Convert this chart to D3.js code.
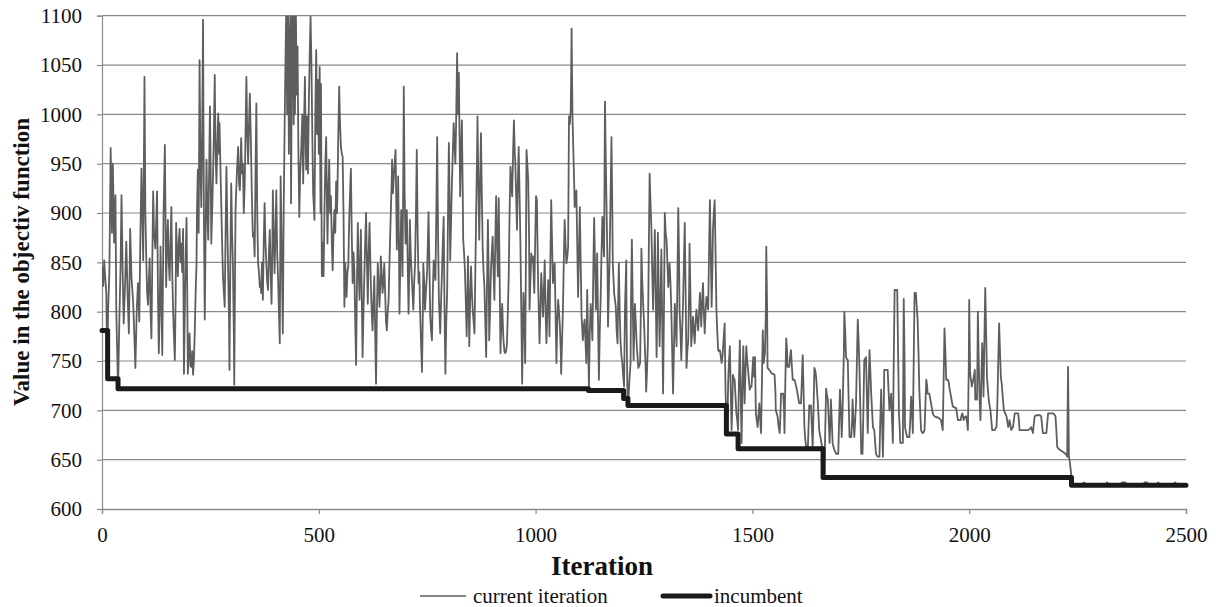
<!DOCTYPE html>
<html><head><meta charset="utf-8">
<script src="https://cdn.jsdelivr.net/npm/d3@7"></script>
<style>html,body{margin:0;padding:0;background:#fff}svg{display:block}</style>
</head><body><svg id="c" width="1216" height="607"></svg>
<script>
const xTicks = [0, 500, 1000, 1500, 2000, 2500];
const yTicks = [600, 650, 700, 750, 800, 850, 900, 950, 1000, 1050, 1100];
const seriesNames = ["current iteration", "incumbent"];
const xTitle = "Iteration";
const yTitle = "Value in the objectiv function";

// incumbent: iteration where a new value starts, and that value
const incumbentIter  = [0, 13, 37, 1122, 1203, 1213, 1440, 1467, 1663, 2236, 2500];
const incumbentValue = [781, 732, 722, 720, 712, 705, 676, 661, 632, 624, 624];

// current iteration value, [iteration, value]
const currentA = [[0,845],[3,826],[5,852],[7,838],[10,818],[12,732],[14,800],[17,840],[20,966],[23,880],[25,950],[28,870],[31,918],[33,800],[35,760],[37,722],[40,790],[43,850],[45,918],[48,830],[50,788],[53,825],[56,871],[59,818],[62,778],[65,884],[68,835],[72,808],[75,770],[77,743],[80,800],[83,829],[86,790],[88,860],[91,945],[93,900],[95,852],[98,1038],[100,900],[102,856],[104,820],[106,807],[108,830],[110,854],[112,800],[114,773],[116,850],[118,922],[120,880],[123,864],[125,890],[127,922],[129,820],[131,758],[133,800],[135,866],[137,810],[139,756],[142,900],[145,969],[147,870],[148,825],[150,870],[152,893],[154,850],[156,832],[158,870],[160,906],[162,840],[164,800],[166,775],[168,751],[170,820],[171,890],[173,860],[175,836],[177,870],[179,884],[181,850],[183,869],[185,840],[187,884],[189,737],[191,800],[193,860],[195,895],[197,800],[198,737],[200,760],[202,778],[204,745],[206,744],[208,760],[210,736],[212,751],[214,780],[216,820],[218,849],[219,900],[221,944],[223,880],[225,1055],[227,950],[229,906],[231,980],[233,1096],[235,900],[237,792],[239,880],[241,954],[243,900],[245,873],[247,940],[249,1008],[251,930],[252,869],[254,900],[256,937],[258,980],[260,1040],[262,960],[264,930],[266,970],[268,1001],[270,960],[271,991],[273,950],[275,910],[277,870],[279,836],[281,820],[283,805],[285,880],[287,947],[289,890],[291,839],[293,790],[294,741],[296,850],[298,930],[300,880],[302,846],[304,780],[305,726],[307,850],[308,903],[311,940],[314,967],[316,930],[318,923],[320,960],[321,976],[323,940],[325,950],[327,900],[329,927],[331,980],[333,1038],[335,980],[337,950],[339,990],[341,1021],[343,980],[344,957],[346,910],[348,876],[350,880],[352,856],[354,940],[356,1011],[358,900],[360,849],[362,840],[364,825],[366,830],[367,819],[369,850],[371,812],[373,870],[375,910],[377,870],[379,849],[381,830],[383,822],[385,860],[387,883],[389,840],[391,808],[393,870],[394,923],[396,880],[398,839],[400,880],[402,923],[404,860],[406,836],[408,800],[410,768],[411,850],[412,937],[414,880],[417,778],[419,900],[421,981],[423,1050],[425,1110],[427,1000],[429,1110],[431,960],[433,1080],[435,1110],[436,910],[438,1072],[440,1110],[442,990],[444,1110],[445,1000],[447,1110],[449,1020],[451,1069],[453,960],[455,896],[457,940],[460,971],[462,1000],[464,930],[466,990],[468,1038],[470,960],[471,944],[473,998],[475,940],[477,1010],[479,1060],[481,1099],[483,1052],[485,980],[487,920],[490,893],[492,1000],[494,1065],[496,980],[498,1035],[500,960]];
const currentB = [[502,1048],[504,900],[505,1031],[507,836],[509,870],[511,836],[513,900],[515,950],[517,977],[519,900],[520,869],[522,920],[524,954],[526,900],[528,917],[530,870],[532,842],[534,880],[536,903],[538,880],[540,932],[542,900],[543,920],[545,980],[547,1028],[549,990],[551,967],[553,960],[555,957],[557,900],[559,805],[561,849],[563,830],[564,815],[566,840],[568,846],[570,890],[572,920],[574,945],[576,880],[578,829],[580,860],[582,842],[584,790],[586,746],[588,830],[590,890],[592,840],[594,812],[596,860],[597,883],[599,820],[601,754],[603,800],[605,836],[607,870],[609,900],[611,850],[613,808],[615,860],[617,890],[619,850],[620,829],[622,800],[624,781],[626,810],[628,836],[630,780],[632,727],[634,800],[636,849],[638,830],[640,805],[642,830],[643,856],[645,840],[647,819],[649,830],[651,849],[653,820],[655,790],[657,781],[659,800],[661,812],[663,850],[666,900],[668,930],[669,954],[671,920],[673,937],[675,950],[677,964],[679,900],[680,863],[682,900],[683,937],[685,860],[686,798],[688,850],[690,903],[692,870],[693,836],[695,950],[696,1028],[698,920],[700,869],[702,890],[703,903],[705,850],[707,798],[709,850],[710,893],[712,860],[714,839],[716,820],[718,802],[720,830],[722,849],[724,900],[726,964],[728,880],[730,829],[732,840],[733,812],[735,780],[738,739],[740,800],[741,849],[743,830],[745,802],[747,820],[750,842],[752,880],[753,901],[755,850],[757,795],[759,780],[761,771],[763,820],[765,852],[767,840],[769,832],[771,900],[773,977],[775,880],[777,812],[779,790],[780,778],[782,810],[784,839],[786,870],[788,896],[790,800],[792,737],[794,790],[796,819],[798,900],[800,971],[802,900],[803,852],[805,890],[807,930],[809,960],[811,991],[813,970],[815,950],[817,1000],[819,1062],[821,1000],[823,1042],[825,960],[826,917],[828,960],[830,994],[832,920],[833,873],[835,860],[837,842],[839,810],[841,775],[843,820],[844,856],[846,800],[847,765],[849,810],[851,846],[853,820],[855,802],[857,790],[859,778],[861,840],[863,903],[865,960],[866,998],[868,930],[870,873],[872,930],[874,981],[876,920],[878,863],[880,840],[882,825],[884,790],[886,754],[888,830],[890,893],[892,830],[893,771],[895,800],[897,842],[899,860],[901,876],[903,840],[905,812],[907,870],[909,917],[911,870],[913,836],[915,915],[917,840],[919,758],[921,790],[923,808],[925,780],[926,771],[928,760],[930,758],[932,760],[934,768],[936,800],[938,836],[940,900],[942,947],[944,930],[946,917],[948,960],[950,994],[952,960],[953,954],[955,920],[957,883],[959,930],[961,967],[963,920],[965,869],[967,800],[969,727],[971,790],[972,819],[974,790],[976,748],[978,880],[979,964],[981,950],[983,933],[985,870],[986,802],[988,830],[990,859],[992,850],[994,856],[996,830],[997,819],[999,870],[1001,917]];
const currentC = [[1003,913],[1005,850],[1006,825],[1008,790],[1009,768],[1011,800],[1013,839],[1015,820],[1017,795],[1019,820],[1021,852],[1023,800],[1025,768],[1027,800],[1029,832],[1031,800],[1032,775],[1034,850],[1036,913],[1038,870],[1040,829],[1042,840],[1044,849],[1046,800],[1048,748],[1050,790],[1052,812],[1054,800],[1056,785],[1058,760],[1059,737],[1061,770],[1063,802],[1065,850],[1067,893],[1069,870],[1071,849],[1073,855],[1075,866],[1076,930],[1077,998],[1079,990],[1081,1004],[1082,1040],[1083,1087],[1085,1000],[1087,964],[1089,930],[1090,906],[1092,915],[1094,923],[1096,870],[1098,815],[1100,860],[1102,906],[1104,850],[1106,795],[1108,780],[1109,771],[1111,785],[1113,792],[1115,770],[1117,748],[1118,790],[1119,822],[1121,770],[1123,724],[1125,780],[1127,808],[1129,790],[1131,771],[1133,840],[1135,895],[1137,850],[1139,802],[1141,830],[1142,859],[1144,790],[1146,731],[1148,780],[1150,812],[1152,860],[1154,896],[1156,870],[1158,856],[1159,940],[1160,1013],[1162,950],[1164,896],[1166,840],[1167,785],[1169,820],[1171,863],[1173,920],[1175,977],[1177,900],[1178,849],[1180,830],[1181,819],[1183,812],[1185,805],[1187,780],[1189,768],[1190,800],[1192,849],[1194,800],[1196,768],[1198,755],[1200,748],[1202,735],[1204,724],[1206,800],[1209,852],[1210,780],[1212,711],[1214,707],[1215,720],[1217,735],[1219,748],[1220,810],[1222,873],[1224,810],[1226,751],[1228,790],[1229,808],[1231,790],[1233,768],[1235,755],[1237,743],[1239,745],[1241,748],[1243,810],[1244,864],[1246,830],[1248,808],[1250,790],[1252,765],[1254,740],[1255,719],[1257,740],[1259,768],[1261,860],[1263,940],[1265,910],[1267,886],[1269,840],[1271,802],[1273,840],[1275,883],[1277,820],[1279,754],[1281,810],[1282,880],[1284,820],[1286,765],[1288,810],[1290,863],[1292,790],[1294,717],[1296,800],[1298,900],[1300,880],[1302,873],[1304,850],[1306,825],[1308,840],[1309,849],[1311,830],[1313,802],[1315,760],[1317,717],[1319,760],[1321,808],[1323,790],[1325,765],[1327,830],[1329,905],[1331,850],[1332,802],[1334,780],[1336,751],[1338,780],[1340,808],[1342,850],[1344,890],[1346,820],[1348,743],[1350,760],[1352,771],[1354,820],[1355,869],[1357,820],[1359,765],[1361,780],[1363,795],[1365,780],[1367,768],[1369,790],[1371,802],[1373,790],[1375,781],[1377,800],[1379,819],[1381,800],[1382,785],[1384,810],[1386,829],[1388,800],[1390,778],[1392,800],[1394,815],[1396,810],[1398,802],[1400,860],[1402,913],[1404,860],[1406,805],[1408,850],[1409,883],[1411,900],[1413,913],[1415,860],[1417,802],[1419,780],[1421,761],[1423,760],[1425,761],[1427,755],[1429,748],[1431,755],[1432,761],[1434,775],[1436,788],[1438,720],[1440,690],[1441,676],[1443,700],[1444,727],[1446,750],[1448,765],[1450,720],[1452,680],[1454,710],[1455,736],[1457,733],[1459,731],[1461,715],[1463,697],[1465,690],[1467,680],[1469,730],[1471,771],[1473,720],[1475,667],[1477,720],[1479,765],[1481,730],[1482,707],[1484,740],[1486,765],[1488,750],[1490,741],[1492,730],[1494,721],[1496,724],[1498,724],[1500,740]];
const currentD = [[1502,754],[1504,734],[1506,754],[1508,697],[1510,690],[1512,683],[1514,695],[1516,707],[1518,690],[1520,677],[1522,730],[1524,781],[1526,748],[1528,755],[1529,758],[1531,800],[1532,866],[1534,800],[1535,743],[1537,742],[1539,741],[1542,739],[1545,737],[1548,737],[1551,736],[1553,720],[1554,700],[1556,697],[1558,694],[1560,685],[1563,677],[1565,700],[1566,717],[1569,717],[1571,717],[1573,700],[1574,677],[1576,730],[1578,773],[1580,760],[1581,744],[1583,744],[1585,744],[1587,755],[1589,761],[1591,745],[1593,731],[1595,731],[1597,731],[1599,728],[1601,724],[1603,720],[1604,717],[1606,712],[1608,707],[1610,707],[1612,707],[1614,730],[1616,756],[1618,720],[1620,683],[1622,670],[1624,663],[1626,663],[1628,663],[1630,690],[1631,705],[1633,705],[1635,705],[1637,685],[1639,663],[1641,700],[1643,743],[1645,740],[1647,734],[1649,720],[1651,707],[1653,690],[1654,680],[1656,675],[1658,670],[1660,665],[1662,660],[1664,645],[1666,636],[1668,680],[1670,722],[1672,715],[1674,711],[1676,690],[1678,667],[1680,690],[1681,711],[1683,690],[1685,667],[1687,663],[1689,660],[1691,658],[1693,656],[1696,656],[1698,656],[1700,690],[1702,721],[1704,700],[1706,673],[1708,700],[1709,721],[1711,760],[1712,800],[1714,780],[1716,754],[1718,752],[1720,751],[1722,710],[1724,673],[1726,673],[1728,673],[1730,690],[1731,711],[1733,690],[1735,673],[1737,690],[1739,707],[1741,750],[1743,792],[1745,770],[1747,741],[1749,700],[1751,656],[1753,656],[1754,656],[1756,700],[1758,751],[1760,752],[1762,754],[1764,715],[1766,677],[1768,720],[1770,761],[1772,740],[1774,717],[1776,700],[1778,683],[1780,681],[1781,680],[1783,668],[1785,656],[1787,654],[1789,653],[1791,653],[1793,653],[1795,690],[1797,721],[1799,690],[1801,653],[1803,700],[1804,741],[1806,741],[1808,741],[1810,741],[1812,741],[1814,720],[1816,700],[1818,709],[1820,717],[1822,690],[1824,667],[1826,750],[1828,822],[1830,822],[1832,822],[1834,822],[1836,760],[1838,697],[1840,680],[1841,667],[1843,667],[1845,667],[1847,667],[1848,740],[1849,813],[1851,750],[1852,683],[1854,678],[1857,673],[1860,673],[1862,673],[1864,690],[1866,714],[1868,700],[1870,677],[1872,750],[1874,819],[1876,819],[1877,819],[1879,805],[1881,792],[1883,760],[1885,721],[1887,700],[1889,680],[1891,678],[1893,677],[1895,678],[1897,680],[1899,705],[1901,731],[1903,725],[1904,717],[1906,717],[1908,717],[1910,712],[1912,707],[1914,702],[1916,697],[1918,695],[1920,694],[1924,693],[1927,693],[1931,692],[1935,690],[1937,685],[1939,680],[1941,730],[1943,783],[1945,760],[1947,731],[1949,731],[1951,731],[1953,728],[1954,724],[1956,719],[1958,714],[1960,709],[1962,704],[1966,703],[1970,702],[1972,696],[1974,690],[1977,690],[1980,690],[1982,694],[1984,697],[1986,694],[1987,690],[1990,693],[1993,694],[1995,688],[1997,680],[1999,745],[2000,812]];
const currentE = [[2002,740],[2003,734],[2005,729],[2006,724],[2009,730],[2011,735],[2013,741],[2014,711],[2016,711],[2018,711],[2019,750],[2020,800],[2022,750],[2024,711],[2026,690],[2028,730],[2030,768],[2032,740],[2033,714],[2035,770],[2037,824],[2039,780],[2041,734],[2043,722],[2045,711],[2047,705],[2049,700],[2051,690],[2053,680],[2056,680],[2059,680],[2061,682],[2063,683],[2065,707],[2067,750],[2069,788],[2071,760],[2073,734],[2075,727],[2076,721],[2078,710],[2080,700],[2083,697],[2086,694],[2088,688],[2090,683],[2092,687],[2093,690],[2095,685],[2097,680],[2099,682],[2101,683],[2103,690],[2105,697],[2109,697],[2113,697],[2115,688],[2116,680],[2120,680],[2124,680],[2130,680],[2136,680],[2140,681],[2143,683],[2145,680],[2147,677],[2149,686],[2151,694],[2155,695],[2159,695],[2163,695],[2166,694],[2168,685],[2170,677],[2174,677],[2178,677],[2180,687],[2182,697],[2187,697],[2193,697],[2196,696],[2199,694],[2201,680],[2203,663],[2206,661],[2209,660],[2212,659],[2216,658],[2219,657],[2222,656],[2224,655],[2226,653],[2227,700],[2228,744],[2229,700],[2230,653],[2232,648],[2234,640],[2236,632],[2238,626],[2240,624],[2250,624],[2260,625],[2265,627],[2270,625],[2280,624],[2300,624],[2315,625],[2318,627],[2320,625],[2340,624],[2350,625],[2352,627],[2360,627],[2362,625],[2380,624],[2400,624],[2405,627],[2410,627],[2415,625],[2430,624],[2436,627],[2440,624],[2470,624],[2475,627],[2480,624],[2500,624]];

const svg = d3.select("#c");
const L = 102, R = 1186, T = 15.7, B = 509;
const x = d3.scaleLinear().domain([0, 2500]).range([L, R]);
const y = d3.scaleLinear().domain([600, 1100]).range([B, T]);
const grid = "#8a8a8a";
const serif = "'Liberation Serif', 'Times New Roman', serif";

svg.append("rect").attr("width", 1216).attr("height", 607).attr("fill", "#fff");

// horizontal gridlines
svg.append("g").selectAll("line").data(yTicks.slice(1)).join("line")
  .attr("x1", L).attr("x2", R).attr("y1", d => y(d)).attr("y2", d => y(d))
  .attr("stroke", grid).attr("stroke-width", 1.2);

// y axis
const yAxis = svg.append("g").attr("transform", `translate(${L},0)`)
  .call(d3.axisLeft(y).tickValues(yTicks).tickSize(5).tickPadding(15).tickFormat(d3.format("d")));
yAxis.select(".domain").attr("stroke", grid).attr("stroke-width", 1.2);
yAxis.selectAll(".tick line").attr("stroke", grid).attr("stroke-width", 1.2);
yAxis.selectAll("text").attr("font-family", serif).attr("font-size", 21).attr("fill", "#111");

// x axis
const xAxis = svg.append("g").attr("transform", `translate(0,${B})`)
  .call(d3.axisBottom(x).tickValues(xTicks).tickSize(5).tickPadding(13).tickFormat(d3.format("d")));
xAxis.select(".domain").attr("stroke", grid).attr("stroke-width", 1.3);
xAxis.selectAll(".tick line").attr("stroke", grid).attr("stroke-width", 1.2);
xAxis.selectAll("text").attr("font-family", serif).attr("font-size", 21).attr("fill", "#111");

svg.append("clipPath").attr("id", "plot").append("rect")
  .attr("x", L).attr("y", T).attr("width", R - L + 4).attr("height", B - T);

const currentAll = [].concat(currentA, currentB, currentC, currentD, currentE);
const lineCur = d3.line().x(d => x(d[0])).y(d => y(d[1]));
svg.append("path").datum(currentAll).attr("clip-path", "url(#plot)")
  .attr("d", lineCur).attr("fill", "none").attr("stroke", "#5e5e5e")
  .attr("stroke-width", 1.8).attr("stroke-linejoin", "round");

const incPts = incumbentIter.map((d, i) => [d, incumbentValue[i]]);
const lineInc = d3.line().x(d => x(d[0])).y(d => y(d[1])).curve(d3.curveStepAfter);
svg.append("path").datum(incPts).attr("d", lineInc).attr("fill", "none")
  .attr("stroke", "#1a1a1a").attr("stroke-width", 5)
  .attr("stroke-linejoin", "round").attr("stroke-linecap", "round");

// axis titles
svg.append("text").attr("transform", "translate(29,262) rotate(-90)")
  .attr("text-anchor", "middle").attr("font-family", serif).attr("font-weight", "bold")
  .attr("font-size", 23).attr("fill", "#111").text(yTitle);
svg.append("text").attr("x", 602).attr("y", 575).attr("text-anchor", "middle")
  .attr("font-family", serif).attr("font-weight", "bold").attr("font-size", 27)
  .attr("fill", "#111").text(xTitle);

// legend
const leg = svg.append("g");
leg.append("line").attr("x1", 420).attr("x2", 466).attr("y1", 596).attr("y2", 596)
  .attr("stroke", "#5e5e5e").attr("stroke-width", 1.5);
leg.append("text").attr("x", 473).attr("y", 603).attr("font-family", serif)
  .attr("font-size", 21).attr("fill", "#111").text(seriesNames[0]);
leg.append("line").attr("x1", 663).attr("x2", 710).attr("y1", 596).attr("y2", 596)
  .attr("stroke", "#1a1a1a").attr("stroke-width", 5).attr("stroke-linecap", "round");
leg.append("text").attr("x", 714).attr("y", 603).attr("font-family", serif)
  .attr("font-size", 21).attr("fill", "#111").text(seriesNames[1]);
</script></body></html>
